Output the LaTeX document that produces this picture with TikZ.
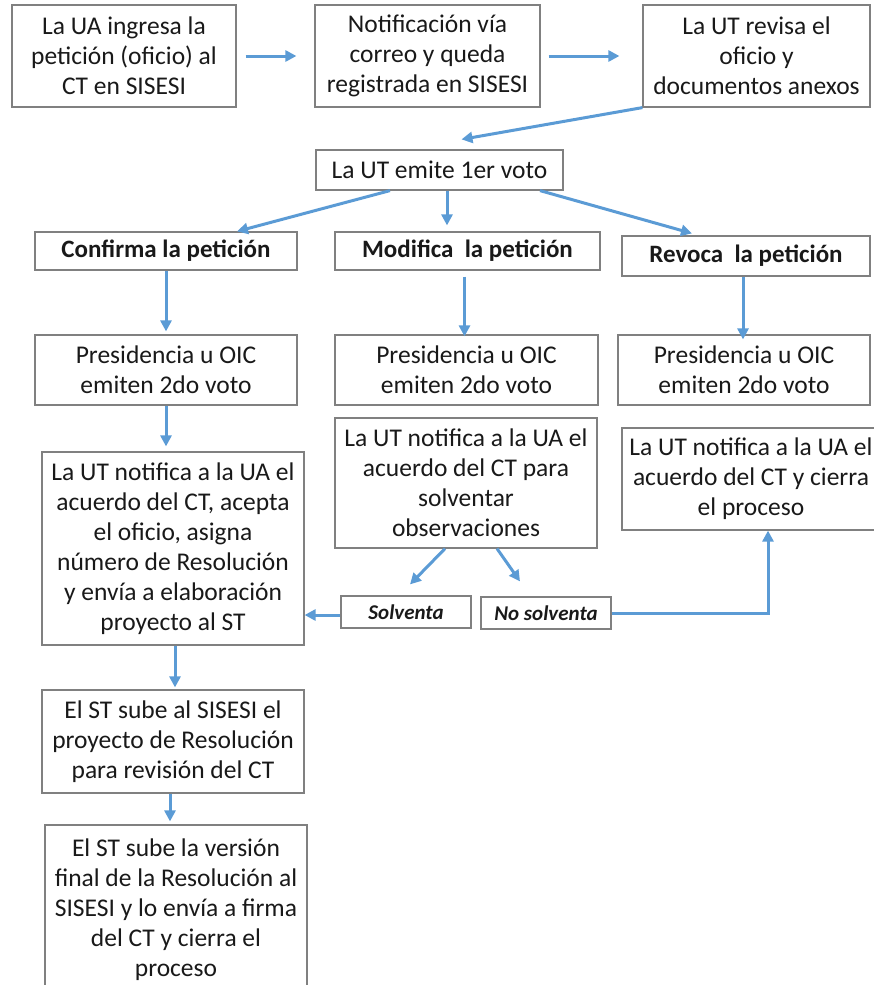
\documentclass[tikz,border=0pt]{standalone}
\usepackage{fontspec}
\setmainfont{Carlito}
\usepackage{xcolor}
\usetikzlibrary{arrows.meta}
\definecolor{bordegris}{RGB}{128,128,128}
\definecolor{azulflecha}{RGB}{91,155,213}
\tikzstyle{caja}=[draw=bordegris, line width=1.2pt, align=center, inner sep=0pt, text=black!90, font=\fontsize{25.5}{30}\selectfont]
\tikzstyle{cajita}=[caja, font=\fontsize{21}{24}\selectfont\bfseries\itshape]
\tikzstyle{flecha}=[draw=azulflecha, line width=3pt, -{Triangle[length=11pt,width=11pt]}]

\begin{document}
\begin{tikzpicture}[x=1pt, y=-1pt]
\useasboundingbox (0,0) rectangle (873,985);
\node[caja, minimum width=224pt, minimum height=102pt] (ingresa) at (124,56) {La UA ingresa la\\petición (oficio) al\\CT en SISESI};
\node[caja, minimum width=225pt, minimum height=102pt] (notif) at (427.5,56) {Notificación vía\\correo y queda\\registrada en SISESI};
\node[caja, minimum width=227pt, minimum height=102pt] (revisa) at (756.5,56) {La UT revisa el\\oficio y\\documentos anexos};
\node[caja, minimum width=247pt, minimum height=40pt] (voto) at (439.5,170) {La UT emite 1er voto};
\node[caja, minimum width=262pt, minimum height=38pt, font=\fontsize{25}{30}\selectfont\bfseries] (confirma) at (166,251) {Confirma la petición};
\node[caja, minimum width=265pt, minimum height=38pt, font=\fontsize{25}{30}\selectfont\bfseries] (modifica) at (467.5,251) {Modifica\ \ la petición};
\node[caja, minimum width=248pt, minimum height=40pt, font=\fontsize{25}{30}\selectfont\bfseries] (revoca) at (746,256) {Revoca\ \ la petición};
\foreach \n/\x/\w in {1/166/262, 2/466.5/263, 3/744/252} {
 \node[caja, minimum width=\w pt, minimum height=70pt] (pres\n) at (\x,370) {Presidencia u OIC\\emiten 2do voto};
}
\node[caja, minimum width=262pt, minimum height=193pt] (acepta) at (173,548.5) {La UT notifica a la UA el\\acuerdo del CT, acepta\\el oficio, asigna\\número de Resolución\\y envía a elaboración\\proyecto al ST};
\node[caja, minimum width=262pt, minimum height=130pt] (solventar) at (466,483) {La UT notifica a la UA el\\acuerdo del CT para\\solventar\\observaciones};
\node[caja, minimum width=258pt, minimum height=102pt] (cierra) at (751,479) {La UT notifica a la UA el\\acuerdo del CT y cierra\\el proceso};
\node[cajita, minimum width=130pt, minimum height=32pt] (solv) at (406,612) {Solventa};
\node[cajita, minimum width=130pt, minimum height=32pt] (nosolv) at (546,613) {No solventa};
\node[caja, minimum width=262pt, minimum height=103pt] (sube) at (173,741.5) {El ST sube al SISESI el\\proyecto de Resolución\\para revisión del CT};
\node[caja, minimum width=262pt, minimum height=170pt] (final) at (176,910) {El ST sube la versión\\final de la Resolución al\\SISESI y lo envía a firma\\del CT y cierra el\\proceso};

\draw[flecha, shorten <=9pt, shorten >=18pt] (ingresa.east) -- (notif.west);
\draw[flecha, shorten <=8pt, shorten >=23pt] (notif.east) -- (revisa.west);
\draw[flecha] (revisa.south west) -- ([xshift=22pt,yshift=10pt]voto.north);
\draw[flecha] ([xshift=-49.5pt]voto.south) -- ([xshift=71pt]confirma.north);
\draw[flecha, shorten >=6pt] ([xshift=7.5pt]voto.south) -- ([xshift=7.5pt]voto.south |- modifica.north);
\draw[flecha] ([xshift=100.5pt]voto.south) -- ([xshift=-54pt,yshift=2pt]revoca.north);
\draw[flecha, shorten >=3pt] (confirma.south) -- (pres1.north);
\draw[flecha, shorten <=6pt] ([xshift=-3pt]modifica.south) -- ([xshift=-3pt,yshift=-2pt]modifica.south |- pres2.north);
\draw[flecha] ([xshift=-3pt]revoca.south) -- ([xshift=-3pt,yshift=-5pt]revoca.south |- pres3.north);
\draw[flecha, shorten >=5pt] (pres1.south) -- (pres1.south |- acepta.north);
\draw[flecha] ([xshift=-21pt]solventar.south) -- ([xshift=4pt,yshift=11pt]solv.north);
\draw[flecha] ([xshift=31pt]solventar.south) -- ([xshift=-26pt,yshift=15pt]nosolv.north);
\draw[flecha] ([yshift=-3pt]solv.west) -- ([yshift=-3pt]solv.west -| acepta.east);
\draw[flecha] (nosolv.east) -| ([xshift=17pt]cierra.south);
\draw[flecha] ([xshift=2pt]acepta.south) -- ([xshift=2pt,yshift=2pt]acepta.south |- sube.north);
\draw[flecha] ([xshift=-3pt]sube.south) -- ([xshift=-3pt,yshift=3pt]sube.south |- final.north);
\end{tikzpicture}
\end{document}
